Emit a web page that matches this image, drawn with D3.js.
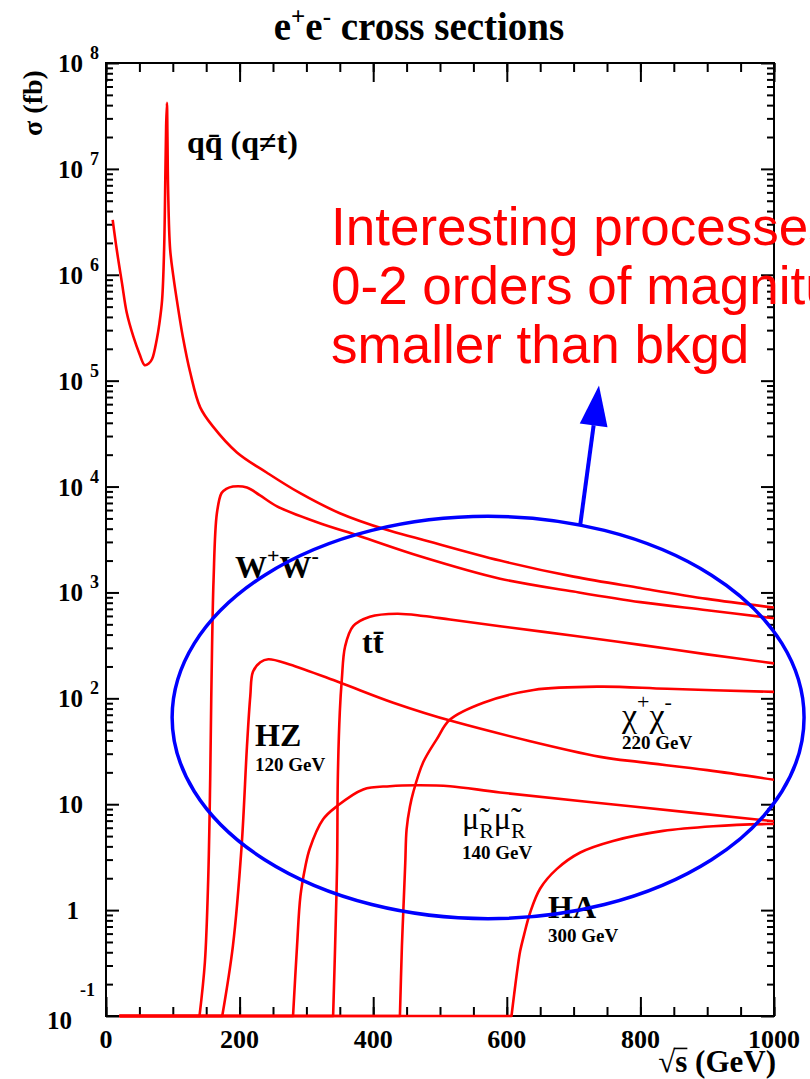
<!DOCTYPE html>
<html>
<head>
<meta charset="utf-8">
<script src="https://cdn.jsdelivr.net/npm/d3@7"></script>
<style>
  body { margin: 0; background: #fff; }
  svg { display: block; }
  text { font-family: "Liberation Serif", "Times New Roman", serif; }
</style>
</head>
<body>
<svg id="chart" width="810" height="1079"></svg>
<script>
// ---- Cross sections (fb) versus centre-of-mass energy sqrt(s) (GeV) ----
const qqEnergy = [10,16,24,31,41,50,58,64,69,76,80,84,87,89,90,91.2,92,93,96,101,106,115,126,141,160,196,241,290,350,420,470,590,700,800,900,1000];
const qqSigma  = [3.3e6,1.74e6,8.3e5,4.4e5,2.6e5,1.8e5,1.4e5,1.45e5,1.6e5,2.45e5,3.5e5,5.8e5,1.74e6,1.0e7,2.5e7,4.2e7,2.0e7,6.3e6,1.74e6,9.5e5,5.8e5,2.6e5,1.2e5,5.6e4,3.7e4,2.1e4,1.35e4,8700,5600,3900,3200,2000,1410,1100,870,720];

const wwEnergy = [20,140,148,153,156,158,161,166,173,180,190,211,230,256,316,380,470,590,700,800,900,1000];
const wwSigma  = [0,0,0.32,1.95,17.4,151,1300,5600,8700,9500,10000,9800,8300,6500,4600,3400,2200,1350,1020,810,680,570];

const ttEnergy = [20,340,343,346,347,350,353,358,370,395,436,475,515,590,700,800,900,1000];
const ttSigma  = [0,0,0.46,2.8,17,74,150,310,480,590,630,600,555,480,390,320,260,214];

const hzEnergy = [20,174,190,203,211,216,220,231,243,275,350,430,522,740,800,900,1000];
const hzSigma  = [0,0,0.46,4.0,35,105,178,219,234,209,141,91,60,28,25,21,17];

const smuonEnergy = [20,280,286,291,298,305,325,345,385,425,465,515,590,789,1000];
const smuonSigma  = [0,0,0.46,1.35,2.5,3.8,7.2,9.5,13.8,14.8,15.1,14.8,12.9,9.5,6.9];

const charginoEnergy = [20,440,443,445,448,450,455,460,475,495,515,565,640,740,840,1000];
const charginoSigma  = [0,0,0.46,0.95,2.8,5.8,9.5,13,25,41,63,91,120,129,123,115];

const haEnergy = [20,607,611,616,620,626,635,650,675,710,759,834,909,990,1000];
const haSigma  = [0,0,0.16,0.28,0.41,0.59,0.95,1.6,2.45,3.5,4.5,5.6,6.2,6.5,6.5];

// axis ticks and labels
const xMajorTicks = [0,200,400,600,800,1000];
const xMinorTicks = d3.range(0,1001,50);
const yDecades = [8,7,6,5,4,3,2,1,0,-1];
const yTickLabels = [
  {exp: 8,  base: "10", sup: "8"},
  {exp: 7,  base: "10", sup: "7"},
  {exp: 6,  base: "10", sup: "6"},
  {exp: 5,  base: "10", sup: "5"},
  {exp: 4,  base: "10", sup: "4"},
  {exp: 3,  base: "10", sup: "3"},
  {exp: 2,  base: "10", sup: "2"},
  {exp: 1,  base: "10", sup: ""},
  {exp: 0,  base: "1",  sup: ""},
  {exp: -1, base: "10", sup: "-1"}
];

// highlighted region (ellipse) and arrow, in data units
const regionCenter = {energy: 572, sigma: 66};
const regionHalfWidthGeV = 473;
const regionHalfHeightDecades = 1.9;
const arrowFrom = {energy: 710, sigma: 4390};
const arrowTo   = {energy: 738, sigma: 89800};

const noteLines = ["Interesting processes", "0-2 orders of magnitude", "smaller than bkgd"];

// ---- layout ----
const svg = d3.select("#chart");
const plot = {left: 106, right: 774, top: 63, bottom: 1016};
const x = d3.scaleLinear().domain([0, 1000]).range([plot.left, plot.right]);
const yMin = 0.1;
const y = d3.scaleLog().domain([yMin, 1e8]).range([plot.bottom, plot.top]);

svg.append("rect").attr("width", 810).attr("height", 1079).attr("fill", "#fff");

svg.append("defs").append("clipPath").attr("id", "plot-clip")
  .append("rect")
  .attr("x", plot.left).attr("y", plot.top - 2)
  .attr("width", plot.right - plot.left).attr("height", plot.bottom - plot.top + 4);

// text helper supporting superscripts/subscripts
function richText(parent, px, py, parts, opt) {
  const t = parent.append("text")
    .attr("x", px).attr("y", py)
    .attr("font-size", opt.size)
    .attr("font-weight", opt.weight || "bold")
    .attr("fill", opt.fill || "#000")
    .attr("text-anchor", opt.anchor || "start");
  if (opt.family) t.style("font-family", opt.family);
  let shift = 0;
  parts.forEach(p => {
    const target = p.shift || 0;
    const s = t.append("tspan").text(p.t).attr("dy", target - shift);
    shift = target;
    if (p.size) s.attr("font-size", p.size);
    if (p.weight) s.attr("font-weight", p.weight);
    if (p.family) s.style("font-family", p.family);
  });
  return t;
}

// ---- axes ----
const yMajor = yDecades.map(e => Math.pow(10, e));
const yMinor = [];
for (let e = -1; e < 8; e++) for (let m = 2; m <= 9; m++) yMinor.push(m * Math.pow(10, e));

function tickAxis(axisGen, tx, ty) {
  const g = svg.append("g").attr("transform", `translate(${tx},${ty})`).call(axisGen);
  g.select(".domain").remove();
  g.selectAll("text").remove();
  g.selectAll("line").attr("stroke", "#000").attr("stroke-width", 2);
  return g;
}
tickAxis(d3.axisLeft(y).tickValues(yMajor).tickSize(-13), plot.left, 0);
tickAxis(d3.axisLeft(y).tickValues(yMinor).tickSize(-7), plot.left, 0);
tickAxis(d3.axisRight(y).tickValues(yMajor).tickSize(-13), plot.right, 0);
tickAxis(d3.axisRight(y).tickValues(yMinor).tickSize(-7), plot.right, 0);
tickAxis(d3.axisBottom(x).tickValues(xMajorTicks).tickSize(-19), 0, plot.bottom);
tickAxis(d3.axisBottom(x).tickValues(xMinorTicks).tickSize(-9), 0, plot.bottom);
tickAxis(d3.axisTop(x).tickValues(xMajorTicks).tickSize(-19), 0, plot.top);
tickAxis(d3.axisTop(x).tickValues(xMinorTicks).tickSize(-9), 0, plot.top);

svg.append("rect")
  .attr("x", plot.left).attr("y", plot.top)
  .attr("width", plot.right - plot.left).attr("height", plot.bottom - plot.top)
  .attr("fill", "none").attr("stroke", "#000").attr("stroke-width", 2);

// x tick labels
svg.append("g").selectAll("text").data(xMajorTicks).join("text")
  .attr("x", d => x(d)).attr("y", plot.bottom + 32)
  .attr("text-anchor", "middle").attr("font-size", 26).attr("font-weight", "bold")
  .text(d => d);

// y tick labels
yTickLabels.forEach(d => {
  const py = y(Math.pow(10, d.exp));
  if (d.exp === -1) {
    richText(svg, 72, py + 13, [{t: d.base}], {size: 25, anchor: "end"});
    richText(svg, 80, py - 20, [{t: d.sup}], {size: 18});
  } else if (d.sup) {
    richText(svg, 83, py + 9, [{t: d.base}], {size: 25, anchor: "end"});
    richText(svg, 90, py - 4, [{t: d.sup}], {size: 18});
  } else {
    richText(svg, d.base === "1" ? 79 : 83, py + 9, [{t: d.base}], {size: 25, anchor: "end"});
  }
});

// x axis title: radical sign with a vinculum over "s"
const xTitleSize = 31, xTitleBase = 1072;
const xTitle = richText(svg, 776, xTitleBase, [{t: "\u221A"}, {t: "s"}, {t: " (GeV)"}], {size: xTitleSize, anchor: "end"});
{
  const n = xTitle.node();
  const rad = n.getExtentOfChar(0), sch = n.getExtentOfChar(1);
  svg.append("line")
    .attr("x1", rad.x + rad.width - 1.5).attr("x2", sch.x + sch.width)
    .attr("y1", xTitleBase - 0.76 * xTitleSize).attr("y2", xTitleBase - 0.76 * xTitleSize)
    .attr("stroke", "#000").attr("stroke-width", 1.6);
}
svg.append("text")
  .attr("transform", "translate(42,103) rotate(-90)")
  .attr("text-anchor", "middle").attr("font-size", 28).attr("font-weight", "bold")
  .text("\u03C3 (fb)");

// title
richText(svg, 419, 40, [
  {t: "e"}, {t: "+", shift: -15, size: 25}, {t: "e"}, {t: "-", shift: -15, size: 25}, {t: " cross sections"}
], {size: 39, anchor: "middle"});

// ---- curves ----
// below threshold a cross section sits on the lower edge of the frame (straight run),
// above it the points are joined with a smooth spline
const floorLine = d3.line()
  .x(d => x(d[0]))
  .y(d => y(Math.max(d[1], yMin)));
const smoothLine = d3.line()
  .x(d => x(d[0]))
  .y(d => y(Math.max(d[1], yMin)))
  .curve(d3.curveCatmullRom.alpha(0.5));

function curvePath(energy, sigma) {
  const pts = d3.zip(energy, sigma);
  let k = -1;
  pts.forEach((p, i) => { if (p[1] <= yMin) k = i; });
  if (k < 0) return smoothLine(pts);
  return floorLine(pts.slice(0, k + 1)) + smoothLine(pts.slice(k)).replace(/^M[^CL]*/, "");
}

const series = [
  [qqEnergy, qqSigma],
  [wwEnergy, wwSigma],
  [ttEnergy, ttSigma],
  [hzEnergy, hzSigma],
  [smuonEnergy, smuonSigma],
  [charginoEnergy, charginoSigma],
  [haEnergy, haSigma]
];
svg.append("g").attr("clip-path", "url(#plot-clip)")
  .selectAll("path").data(series).join("path")
  .attr("d", s => curvePath(s[0], s[1]))
  .attr("fill", "none").attr("stroke", "#ff0000").attr("stroke-width", 2.6)
  .attr("stroke-linejoin", "round");

// ---- process labels ----
richText(svg, 187, 153, [
  {t: "q"}, {t: "q\u0304"}, {t: " (q\u2260t)"}
], {size: 32});
richText(svg, 235, 578, [
  {t: "W"}, {t: "+", shift: -15, size: 22}, {t: "W"}, {t: "-", shift: -15, size: 22}
], {size: 32});
richText(svg, 362, 653, [{t: "t"}, {t: "t\u0304"}], {size: 32});
richText(svg, 255, 746, [{t: "HZ"}], {size: 32});
richText(svg, 255, 771, [{t: "120 GeV"}], {size: 19});
richText(svg, 622, 727, [
  {t: "\u03C7", weight: "normal"}, {t: "+", shift: -18, size: 22, weight: "normal"},
  {t: "\u03C7", weight: "normal"}, {t: "-", shift: -18, size: 22, weight: "normal"}
], {size: 34, weight: "normal"});
richText(svg, 622, 749, [{t: "220 GeV"}], {size: 19});
richText(svg, 462, 829, [
  {t: "\u03BC\u0303", weight: "normal"}, {t: "R", shift: 9, size: 22},
  {t: "\u03BC\u0303", weight: "normal"}, {t: "R", shift: 9, size: 22}
], {size: 32, weight: "normal"});
richText(svg, 462, 859, [{t: "140 GeV"}], {size: 19});
richText(svg, 548, 918, [{t: "HA"}], {size: 32});
richText(svg, 548, 942, [{t: "300 GeV"}], {size: 19});

// ---- highlighted region and arrow ----
const cx = x(regionCenter.energy), cy = y(regionCenter.sigma);
const rx = x(regionCenter.energy + regionHalfWidthGeV) - cx;
const ry = cy - y(regionCenter.sigma * Math.pow(10, regionHalfHeightDecades));
svg.append("ellipse")
  .attr("cx", cx).attr("cy", cy).attr("rx", rx).attr("ry", ry)
  .attr("fill", "none").attr("stroke", "#0000ff").attr("stroke-width", 3.5);

const ax0 = x(arrowFrom.energy), ay0 = y(arrowFrom.sigma);
const ax1 = x(arrowTo.energy), ay1 = y(arrowTo.sigma);
const ang = Math.atan2(ay1 - ay0, ax1 - ax0);
const headLen = 40, headHalf = 14;
const bx = ax1 - headLen * Math.cos(ang), by = ay1 - headLen * Math.sin(ang);
svg.append("line")
  .attr("x1", ax0).attr("y1", ay0).attr("x2", bx).attr("y2", by)
  .attr("stroke", "#0000ff").attr("stroke-width", 4);
svg.append("path")
  .attr("d", `M${ax1},${ay1} L${bx + headHalf * Math.sin(ang)},${by - headHalf * Math.cos(ang)} L${bx - headHalf * Math.sin(ang)},${by + headHalf * Math.cos(ang)} Z`)
  .attr("fill", "#0000ff");

// ---- annotation ----
const note = svg.append("text")
  .attr("x", 331).attr("y", 245)
  .attr("fill", "#ff0000").attr("font-size", 53)
  .style("font-family", "'Liberation Sans', Arial, sans-serif");
noteLines.forEach((l, i) => note.append("tspan").attr("x", 331).attr("dy", i === 0 ? 0 : 59).text(l));
</script>
</body>
</html>
